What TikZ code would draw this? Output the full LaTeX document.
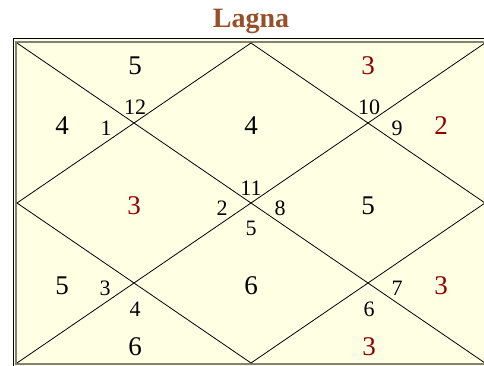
\documentclass[tikz,border=0pt]{standalone}
\usepackage{fontspec}
\setmainfont{Liberation Serif}
\definecolor{bgyellow}{RGB}{255,255,228}
\definecolor{framegray}{RGB}{130,130,115}
\definecolor{numred}{RGB}{145,0,0}
\definecolor{titlebrown}{RGB}{152,80,40}
\tikzset{
  big/.style={inner sep=0pt, font=\fontsize{27}{27}\selectfont, text=black},
  bigred/.style={big, text=numred},
  small/.style={inner sep=0pt, font=\fontsize{22}{22}\selectfont, text=black},
  chartline/.style={draw=black, line width=0.8pt},
}
\begin{document}
\begin{tikzpicture}[x=1pt,y=-1pt]
\useasboundingbox (0,0) rectangle (484,366);
\fill[white] (0,0) rectangle (484,366);
% frame
\fill[bgyellow] (13,38) rectangle (492,372);
\draw[black, line width=0.9pt] (13.5,38.5) rectangle (492,372);
\draw[framegray, line width=2pt] (16,42) rectangle (486,364);
% chart corners
\coordinate (tl) at (17,43);
\coordinate (tr) at (485,43);
\coordinate (bl) at (17,363);
\coordinate (br) at (485,363);
\coordinate (mt) at (251,43);
\coordinate (mr) at (485,203);
\coordinate (mb) at (251,363);
\coordinate (ml) at (17,203);
\draw[chartline] (tl) -- (br);
\draw[chartline] (bl) -- (tr);
\draw[chartline] (mt) -- (mr) -- (mb) -- (ml) -- cycle;
% title
\node[anchor=base, inner sep=0pt, text=titlebrown, font=\fontsize{28}{28}\selectfont\bfseries] (title) at (251,28) {Lagna};
% top row
\node[big] (h12a) at (135,66) {5};
\node[small] (n12) at (135,107) {12};
\node[small] (n1) at (106,128) {1};
\node[big] (h1a) at (62,126) {4};
\node[big] (h1c) at (251,126) {4};
\node[bigred] (h11a) at (368,66) {3};
\node[small] (n10) at (369,107) {10};
\node[small] (n9) at (397,128) {9};
\node[bigred] (h9a) at (441,126) {2};
% middle row
\node[bigred] (h2a) at (134,206) {3};
\node[small] (n11) at (251,188) {11};
\node[small] (n2) at (222,208) {2};
\node[small] (n8) at (280,208) {8};
\node[small] (n5) at (251,228) {5};
\node[big] (h8a) at (368,206) {5};
% bottom row
\node[big] (h3a) at (62,286) {5};
\node[small] (n3) at (105,288) {3};
\node[small] (n4) at (135,309) {4};
\node[big] (h4a) at (135,347) {6};
\node[big] (h5a) at (251,286) {6};
\node[small] (n7) at (397,288) {7};
\node[small] (n6) at (369,309) {6};
\node[bigred] (h7a) at (441,286) {3};
\node[bigred] (h6a) at (369,347) {3};
\end{tikzpicture}
\end{document}
